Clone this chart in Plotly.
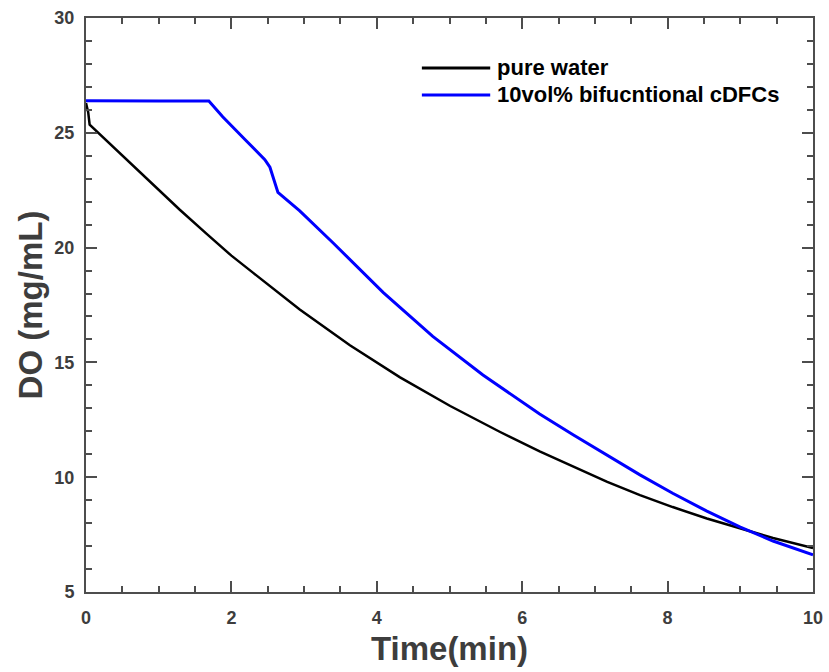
import plotly.graph_objects as go

# ---- data ----
series_names = ["pure water", "10vol% bifucntional cDFCs"]
series_colors = ["#000000", "#0000ff"]

water_t = [0, 0.01, 0.03, 0.05, 0.1, 0.37, 0.84, 1.29, 1.66, 2.0, 2.3, 2.94, 3.63,
           4.32, 5.01, 5.69, 6.24, 6.70, 7.17, 7.62, 8.07, 8.54, 9.0, 9.45, 10]
water_do = [26.3, 26.2, 25.9, 25.35, 25.2, 24.4, 22.96, 21.65, 20.6, 19.65, 18.9, 17.3, 15.75,
            14.35, 13.1, 11.98, 11.12, 10.45, 9.8, 9.22, 8.7, 8.2, 7.76, 7.35, 6.91]

cdfc_t = [0, 0.5, 1.0, 1.69, 1.88, 2.19, 2.46, 2.53, 2.56, 2.6, 2.64, 2.94, 3.40,
          4.09, 4.77, 5.46, 6.24, 6.70, 7.17, 7.62, 8.07, 8.54, 9.0, 9.45, 10]
cdfc_do = [26.4, 26.38, 26.38, 26.38, 25.7, 24.7, 23.83, 23.5, 23.2, 22.8, 22.4, 21.6, 20.2,
           18.04, 16.13, 14.45, 12.75, 11.85, 10.95, 10.1, 9.3, 8.52, 7.83, 7.22, 6.62]

x_range = [0, 10]
y_range = [5, 30]
x_major, x_minor = 2, 0.5
y_major, y_minor = 5, 1

x_title = "Time(min)"
y_title = "DO (mg/mL)"

FONT = "Liberation Sans, Arial, sans-serif"
AXIS_COLOR = "#4d4d4d"
TEXT_COLOR = "#3d3d3d"

fig = go.Figure()
fig.add_trace(go.Scatter(x=water_t, y=water_do, mode="lines", name=series_names[0],
                         line=dict(color=series_colors[0], width=2.5), showlegend=False))
fig.add_trace(go.Scatter(x=cdfc_t, y=cdfc_do, mode="lines", name=series_names[1],
                         line=dict(color=series_colors[1], width=3), showlegend=False))

fig.update_xaxes(
    range=x_range, tickmode="linear", tick0=0, dtick=x_major, automargin=False,
    showline=True, linecolor=AXIS_COLOR, linewidth=2, mirror="ticks",
    ticks="inside", ticklen=11, tickwidth=2, tickcolor=AXIS_COLOR,
    minor=dict(dtick=x_minor, tick0=0, ticks="inside", ticklen=6, tickwidth=2,
               tickcolor=AXIS_COLOR, showgrid=False),
    showgrid=False, zeroline=False,
    tickfont=dict(family=FONT, size=18, color=TEXT_COLOR, weight="bold"),
    ticklabelstandoff=8,
    title=dict(text=x_title, font=dict(family=FONT, size=33, color=TEXT_COLOR, weight="bold"),
               standoff=10),
)
fig.update_yaxes(
    range=y_range, tickmode="linear", tick0=0, dtick=y_major, automargin=False,
    showline=True, linecolor=AXIS_COLOR, linewidth=2, mirror="ticks",
    ticks="inside", ticklen=11, tickwidth=2, tickcolor=AXIS_COLOR,
    minor=dict(dtick=y_minor, tick0=0, ticks="inside", ticklen=6, tickwidth=2,
               tickcolor=AXIS_COLOR, showgrid=False),
    showgrid=False, zeroline=False,
    tickfont=dict(family=FONT, size=18, color=TEXT_COLOR, weight="bold"),
    ticklabelstandoff=6,
    title=dict(text=y_title, font=dict(family=FONT, size=33, color=TEXT_COLOR, weight="bold"),
               standoff=2),
)

# custom legend (long line samples, no box)
legend_rows_y = [0.913, 0.866]
for name, color, yy in zip(series_names, series_colors, legend_rows_y):
    fig.add_shape(type="line", xref="paper", yref="paper", x0=0.462, x1=0.556, y0=yy, y1=yy,
                  line=dict(color=color, width=3))
    fig.add_annotation(xref="paper", yref="paper", x=0.5626, y=yy, text=name, showarrow=False,
                       xanchor="left", yanchor="middle",
                       font=dict(family=FONT, size=22, color="#000000", weight="bold"))

fig.update_layout(
    width=829, height=672,
    margin=dict(l=86, r=16, t=18, b=80),
    paper_bgcolor="white", plot_bgcolor="white",
    font=dict(family=FONT),
)

fig.write_html("out.html", config={"displayModeBar": False},
               post_script="document.body.style.margin='0';document.body.style.padding='0';")
